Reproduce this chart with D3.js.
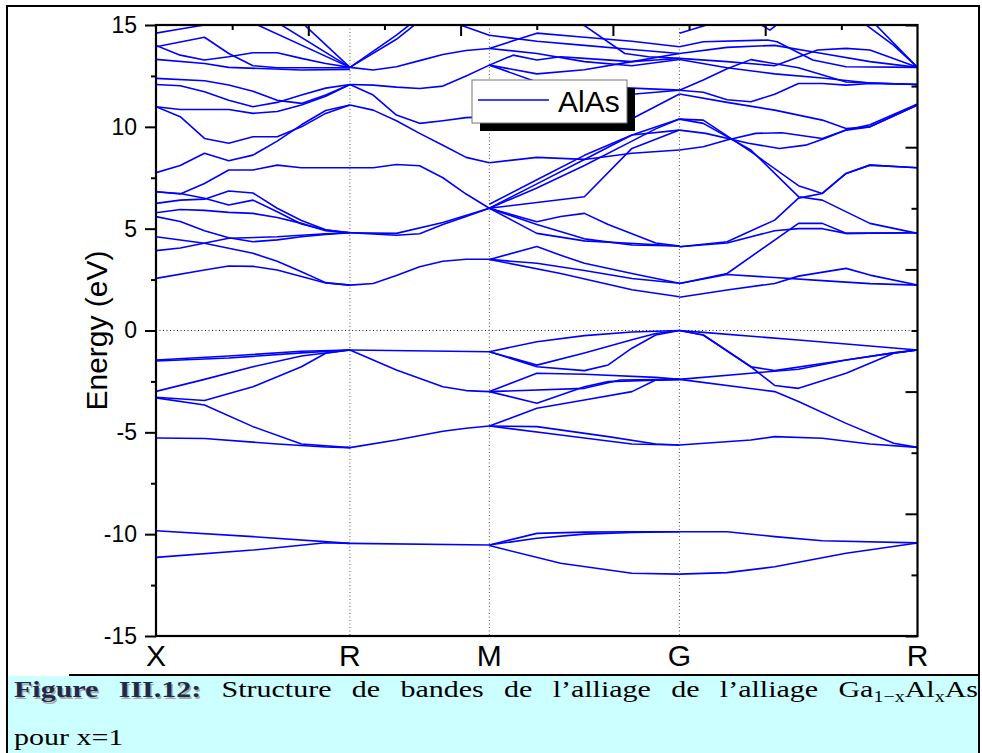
<!DOCTYPE html>
<html>
<head>
<meta charset="utf-8">
<script src="https://cdn.jsdelivr.net/npm/d3@7"></script>
<style>
  body { margin: 0; background: #fff; }
  svg { display: block; }
</style>
</head>
<body>
<svg id="chart" width="982" height="753"></svg>
<script>
"use strict";

// high symmetry points: k-point number and path length
var kLabels = ["X", "R", "M", "G", "R"];
var kIndex = [0, 8, 14, 22, 32];
var kPath = [0, 0.708, 1.217, 1.911, 2.780];

var yTicks = [-15, -10, -5, 0, 5, 10, 15];
var yMinor = [-12.5, -7.5, -2.5, 2.5, 7.5, 12.5];
var rightMajor = [-15, -9, -3, 3, 9, 15];
var rightMinor = [-12, -6, 0, 6, 12];
var legendLabel = "AlAs";

// bands, one list per segment, points are [k-point number, energy eV]
var bandsXR = [
  [[0,-11.14],[4,-10.78],[7,-10.42],[8,-10.45]],
  [[0,-9.83],[4,-10.12],[8,-10.45]],
  [[0,-5.28],[2,-5.3],[5,-5.57],[7,-5.72],[8,-5.75]],
  [[0,-3.31],[2,-3.66],[4,-4.72],[6,-5.57],[8,-5.75]],
  [[0,-3.28],[2,-3.44],[4,-2.76],[6,-1.78],[7,-1.12],[8,-0.96]],
  [[0,-2.99],[2,-2.4],[4,-1.78],[6,-1.25],[8,-0.96]],
  [[0,-1.5],[3,-1.35],[6,-1.1],[8,-0.96]],
  [[0,-1.45],[3,-1.25],[6,-1.02],[8,-0.96]],
  [[0,2.56],[2,2.97],[3,3.17],[4,3.15],[5,2.97],[6,2.65],[7,2.33],[8,2.23]],
  [[0,4.6],[2,4.28],[4,3.79],[5,3.4],[6,2.88],[7,2.35],[8,2.23]],
  [[0,3.92],[1,4.05],[3,4.53],[5,4.6],[7,4.75],[8,4.8]],
  [[0,5.59],[1,5.35],[2,4.9],[3,4.55],[4,4.36],[5,4.45],[6,4.6],[7,4.72],[8,4.8]],
  [[0,5.78],[1,5.94],[2,5.9],[3,5.8],[4,5.75],[5,5.55],[6,5.26],[7,4.9],[8,4.8]],
  [[0,6.81],[1,6.73],[2,6.49],[3,6.16],[4,6.4],[5,5.83],[6,5.23],[7,4.93],[8,4.8]],
  [[0,6.24],[1,6.4],[2,6.45],[3,6.85],[4,6.75],[5,6.0],[6,5.4],[7,4.95],[8,4.8]],
  [[0,6.81],[1,6.7],[2,7.22],[3,7.88],[4,7.88],[5,8.12],[6,7.99],[8,7.99]],
  [[0,7.75],[1,8.1],[2,8.7],[3,8.33],[4,8.61],[5,9.3],[6,10.1],[7,10.8],[8,11.07]],
  [[0,10.99],[1,10.5],[2,9.43],[3,9.19],[4,9.51],[5,9.51],[6,10.0],[7,10.66],[8,11.07]],
  [[0,10.99],[1,10.85],[2,10.85],[3,10.85],[4,10.66],[5,10.75],[6,11.07],[7,11.5],[8,12.08]],
  [[0,12.08],[1,12.02],[2,11.72],[3,11.31],[4,10.99],[5,11.2],[6,11.56],[7,11.9],[8,12.08]],
  [[0,12.38],[2,12.26],[3,12.05],[4,11.75],[5,11.3],[6,11.15],[7,11.56],[8,12.08]],
  [[0,13.31],[2,13.11],[3,12.92],[6,12.79],[8,12.82]],
  [[0,14.0],[1,13.52],[2,13.28],[3,13.44],[4,13.64],[5,13.64],[6,13.36],[7,13.11],[8,12.92]],
  [[0,13.93],[2,14.4],[3,13.6],[4,13.0],[5,12.9],[8,12.9]],
  [[0,14.6],[1,14.8],[2,15.0],[3,15.3]],
  [[3,15.65],[8,12.92]],
  [[4,15.86],[8,12.92]],
  [[5,16.25],[8,12.92]]
];

var bandsRM = [
  [[8,-10.45],[14,-10.53]],
  [[8,-5.75],[10,-5.38],[12,-4.95],[13,-4.8],[14,-4.69]],
  [[8,-0.96],[10,-1.94],[12,-2.76],[13,-2.95],[14,-3.0]],
  [[8,-0.96],[14,-1.04]],
  [[8,2.23],[9,2.31],[10,2.7],[11,3.13],[12,3.4],[13,3.5],[14,3.5]],
  [[8,4.8],[10,4.77],[12,5.3],[14,6.0]],
  [[8,4.8],[10,4.68],[11,4.75],[12,5.2],[13,5.6],[14,6.0]],
  [[8,7.99],[9,7.99],[10,8.15],[11,8.09],[12,7.5],[13,6.7],[14,6.0]],
  [[8,11.07],[9,10.82],[10,10.3],[11,9.68],[12,9.1],[13,8.5],[14,8.24]],
  [[8,12.08],[9,11.56],[10,10.58],[11,10.17],[12,10.3],[13,10.45],[14,10.5]],
  [[8,12.08],[9,12.05],[10,11.95],[11,11.88],[12,12.0],[13,12.5],[14,13.03]],
  [[8,12.92],[9,12.79],[10,12.95],[11,13.25],[12,13.55],[13,13.75],[14,13.85]],
  [[8,12.92],[10,14.5],[11,15.4]],
  [[8,12.92],[10,14.3],[11,15.2]],
  [[12,15.3],[14,14.5]]
];

var bandsMG = [
  [[14,-10.53],[16,-9.96],[18,-9.9],[20,-9.88],[22,-9.88]],
  [[14,-10.53],[16,-10.2],[18,-10.0],[20,-9.92],[22,-9.88]],
  [[14,-10.56],[17,-11.43],[20,-11.92],[22,-11.96]],
  [[14,-4.69],[17,-5.13],[20,-5.57],[22,-5.62]],
  [[14,-4.69],[16,-4.72],[19,-5.21],[21,-5.57],[22,-5.62]],
  [[14,-4.69],[16,-3.82],[18,-3.41],[20,-3.0],[21,-2.43],[22,-2.4]],
  [[14,-3.0],[16,-3.57],[18,-2.76],[19,-2.51],[22,-2.4]],
  [[14,-3.0],[18,-2.84],[19.5,-2.43],[22,-2.4]],
  [[14,-3.0],[16,-2.1],[18,-2.15],[21,-2.3],[22,-2.4]],
  [[14,-1.04],[16,-0.55],[18,-0.25],[20,-0.07],[22,0]],
  [[14,-1.04],[16,-1.78],[18,-1.97],[19,-1.69],[20,-0.87],[21,-0.22],[22,0]],
  [[14,-1.04],[16,-1.7],[18,-1.1],[20,-0.45],[21,-0.15],[22,0]],
  [[14,3.49],[16,4.12],[17,3.7],[18,3.3],[20,2.8],[22,2.32]],
  [[14,3.49],[16,3.3],[18,2.95],[20,2.55],[22,2.32]],
  [[14,3.49],[17,2.8],[20,2.0],[22,1.66]],
  [[14,6.0],[16,5.34],[17,5.6],[18,5.75],[19,5.2],[21,4.3],[22,4.15]],
  [[14,6.0],[16,4.77],[18,4.4],[22,4.15]],
  [[14,6.0],[16,5.2],[18,4.5],[20,4.2],[22,4.15]],
  [[14,6.0],[16,7.0],[18,8.1],[20,9.3],[21,9.9],[22,10.38]],
  [[14,6.0],[16,7.2],[18,8.4],[20,9.6],[22,10.38]],
  [[14,6.2],[16,7.4],[18,8.6],[20,9.6],[22,9.84]],
  [[14,6.0],[18,6.57],[20,8.94],[22,9.84]],
  [[14,8.24],[16,8.5],[18,8.4],[20,8.7],[22,8.86]],
  [[14,10.5],[16,10.1],[18,10.0],[20,10.4],[22,11.61]],
  [[14,10.5],[16,11.0],[18,11.3],[20,11.6],[22,11.8]],
  [[14,13.03],[16,12.2],[18,12.0],[20,11.9],[22,11.8]],
  [[14,13.03],[15,13.52],[16,13.28],[17,13.44],[18,13.36],[20,13.2],[21,13.28],[22,13.36]],
  [[14,13.85],[16,13.6],[18,13.2],[20,13.0],[22,13.31]],
  [[14,14.5],[16,14.2],[18,14.0],[20,13.8],[22,13.6]],
  [[14,13.85],[16,14.6],[18,14.4],[20,14.2],[22,13.93]],
  [[17,15.3],[18,14.97],[19.7,13.6],[20.7,13.44],[22,13.36]],
  [[14,13.03],[16,12.6],[18,12.8],[20,13.2],[22,13.6]]
];

var bandsGR = [
  [[22,-9.88],[24,-9.88],[26,-10.12],[28,-10.32],[32,-10.43]],
  [[22,-11.96],[24,-11.89],[26,-11.6],[29,-10.94],[32,-10.43]],
  [[22,-5.62],[25,-5.38],[26,-5.21],[28,-5.29],[30,-5.57],[32,-5.74]],
  [[22,-2.4],[26,-3.0],[27,-3.49],[29,-4.56],[31,-5.54],[32,-5.74]],
  [[22,-2.4],[25,-2.1],[27,-1.9],[29,-1.45],[31,-1.1],[32,-0.96]],
  [[22,0],[23,-0.09],[27,-0.47],[30,-0.76],[32,-0.96]],
  [[22,0],[23,-0.22],[25,-1.78],[26,-1.97],[29,-1.45],[31,-1.1],[32,-0.96]],
  [[22,0],[23,-0.22],[25,-1.78],[26,-2.7],[27,-2.84],[29,-2.1],[31,-1.12],[32,-0.96]],
  [[22,1.63],[24,1.99],[26,2.31],[27,2.67],[29,3.05],[30,2.72],[32,2.23]],
  [[22,2.31],[24,2.8],[27,5.26],[28,5.26],[29,4.77],[32,4.8]],
  [[22,2.31],[24,2.75],[26,2.6],[28,2.45],[30,2.3],[32,2.23]],
  [[22,4.11],[24,4.36],[26,5.42],[27,6.5],[28,6.73],[29,7.71],[30,8.12],[32,7.99]],
  [[22,4.11],[24,4.3],[26,4.9],[27,5.0],[28,5.0],[29,4.77],[32,4.8]],
  [[22,10.38],[23,10.17],[25,8.86],[27,6.57],[28,6.4],[30,5.26],[32,4.77]],
  [[22,10.38],[23,10.33],[25,8.78],[27,7.11],[28,6.73],[29,7.71],[30,8.12],[32,7.99]],
  [[22,8.86],[23,9.02],[24,9.35],[25.2,9.68],[26.3,9.71],[28,9.43],[29,9.84],[30,10.0],[32,11.07]],
  [[22,9.84],[23.1,9.68],[24.9,9.19],[26.2,8.94],[27.3,9.1],[28.1,9.43],[29,9.84],[30,10.1],[32,11.12]],
  [[22,11.61],[24,11.2],[26,10.82],[28,10.33],[29,9.92],[30,10.0],[32,11.07]],
  [[22,11.8],[23,11.7],[24,11.33],[25,11.23],[26,11.6],[27,12.13],[28,12.13],[29,12.05],[30,12.13],[32,12.08]],
  [[22,11.8],[23,12.3],[24,12.85],[25,13.3],[27,12.9],[29,12.2],[32,12.08]],
  [[22,13.31],[24,12.9],[26,12.6],[28,12.4],[30,12.15],[32,12.08]],
  [[22,13.36],[24,13.2],[26,13.0],[27.8,13.77],[29,13.85],[30,13.77],[32,12.92]],
  [[22,13.93],[23,14.18],[25.7,14.26],[26.1,14.18],[27.6,13.28],[29,12.95],[32,12.92]],
  [[22,13.6],[24,13.9],[26,14.0],[28,13.6],[30,13.2],[32,12.92]],
  [[25,15.3],[25.8,14.75],[26.4,15.3]],
  [[22,14.6],[24,15.3]],
  [[30,15.3],[32,12.92]],
  [[29.5,15.3],[31,14],[32,12.92]]
];

var captionBold = "Figure III.12:";
var captionText = " Structure de bandes de l\u2019alliage de l\u2019alliage Ga";
var captionLine2 = "pour x=1";

var svg = d3.select("#chart");
var margin = {top: 25, right: 64.5, bottom: 117, left: 156};
var width = 982 - margin.left - margin.right;
var height = 753 - margin.top - margin.bottom;

// outer frame and caption box
svg.append("rect")
  .attr("x", 8).attr("y", 676).attr("width", 971).attr("height", 77)
  .attr("fill", "#ccffff");
svg.append("line")
  .attr("x1", 69).attr("x2", 979).attr("y1", 675).attr("y2", 675)
  .attr("stroke", "#000").attr("stroke-width", 2);
svg.append("path")
  .attr("d", "M7,753 V6 H979 V753")
  .attr("fill", "none").attr("stroke", "#000").attr("stroke-width", 2);

var g = svg.append("g").attr("transform", "translate(" + margin.left + "," + margin.top + ")");

var kx = d3.scaleLinear().domain(kIndex).range(kPath);
var x = d3.scaleLinear().domain([0, kPath[kPath.length - 1]]).range([0, width]);
var y = d3.scaleLinear().domain([-15, 15]).range([height, 0]);

g.append("clipPath").attr("id", "clip")
  .append("rect").attr("width", width).attr("height", height);

// dotted guide lines
g.selectAll(".vline").data(kIndex.slice(1, 4)).enter().append("line")
  .attr("x1", function (d) { return x(kx(d)); })
  .attr("x2", function (d) { return x(kx(d)); })
  .attr("y1", 0).attr("y2", height)
  .attr("stroke", "#555").attr("stroke-width", 1)
  .attr("stroke-dasharray", "1,2.5");
g.append("line")
  .attr("x1", 0).attr("x2", width)
  .attr("y1", y(0)).attr("y2", y(0))
  .attr("stroke", "#222").attr("stroke-width", 1)
  .attr("stroke-dasharray", "1,2.5");

var line = d3.line()
  .x(function (d) { return x(kx(d[0])); })
  .y(function (d) { return y(d[1]); });

var allBands = bandsXR.concat(bandsRM, bandsMG, bandsGR);
g.append("g").attr("clip-path", "url(#clip)")
  .selectAll("path").data(allBands).enter().append("path")
  .attr("d", line)
  .attr("fill", "none")
  .attr("stroke", "#0000ff")
  .attr("stroke-width", 1.6)
  .attr("stroke-linejoin", "round");

// axes
var fontAxis = "Arial, 'Liberation Sans', sans-serif";

var left = g.append("g")
  .call(d3.axisLeft(y).tickValues(yTicks).tickSize(11).tickPadding(8)
    .tickFormat(function (d) { return String(d); }));
left.selectAll("text").attr("font-family", fontAxis).attr("font-size", 23).attr("fill", "#000");
g.append("g")
  .call(d3.axisLeft(y).tickValues(yMinor).tickSize(5).tickFormat(""));

var xMax = kPath[kPath.length - 1];
var topMajor = [2, 4, 6, 8].map(function (j) { return j * xMax / 10; });
var topMinor = [1, 3, 5, 7, 9].map(function (j) { return j * xMax / 10; });
g.append("g").call(d3.axisBottom(x).tickValues(topMajor).tickSize(11).tickFormat(""));
g.append("g").call(d3.axisBottom(x).tickValues(topMinor).tickSize(5).tickFormat(""));

g.append("g").attr("transform", "translate(" + width + ",0)")
  .call(d3.axisLeft(y).tickValues(rightMajor).tickSize(12).tickFormat(""));
g.append("g").attr("transform", "translate(" + width + ",0)")
  .call(d3.axisLeft(y).tickValues(rightMinor).tickSize(6).tickFormat(""));

g.selectAll(".domain").remove();
g.selectAll(".tick line").attr("stroke", "#000").attr("stroke-width", 2);

g.append("rect")
  .attr("width", width).attr("height", height)
  .attr("fill", "none").attr("stroke", "#000").attr("stroke-width", 2.2);

// symmetry point labels
g.selectAll(".klabel").data(kLabels).enter().append("text")
  .attr("x", function (d, i) { return x(kPath[i]); })
  .attr("y", height + 30)
  .attr("text-anchor", "middle")
  .attr("font-family", fontAxis).attr("font-size", 30)
  .text(function (d) { return d; });

g.append("text")
  .attr("transform", "translate(-49," + (height / 2) + ") rotate(-90)")
  .attr("text-anchor", "middle")
  .attr("font-family", fontAxis).attr("font-size", 30)
  .text("Energy (eV)");

// legend with shadow
var lg = g.append("g").attr("transform", "translate(316,55)");
lg.append("rect").attr("x", 8).attr("y", 8).attr("width", 155).attr("height", 43).attr("fill", "#000");
lg.append("rect").attr("width", 155).attr("height", 43)
  .attr("fill", "#fff").attr("stroke", "#777").attr("stroke-width", 1);
lg.append("line").attr("x1", 6).attr("x2", 77).attr("y1", 20).attr("y2", 20)
  .attr("stroke", "#0000ff").attr("stroke-width", 1.6);
lg.append("text").attr("x", 86).attr("y", 32)
  .attr("font-family", fontAxis).attr("font-size", 30)
  .text(legendLabel);

// caption, the glyphs in the picture are stretched sideways
var fontCap = "'Times New Roman', 'Liberation Serif', serif";
var stretch = 1.25;
function captionRow(dx, dy, color) {
  var t = svg.append("text")
    .attr("transform", "translate(" + (14 + dx) + "," + (697 + dy) + ") scale(" + stretch + ",1)")
    .attr("font-family", fontCap).attr("font-size", 24).attr("fill", color);
  t.append("tspan").attr("font-weight", "bold").attr("fill", dx ? "#aaa" : "#1f2a4a").text(captionBold);
  t.append("tspan").text(captionText);
  t.append("tspan").attr("font-size", 16).attr("dy", 5).text("1\u2212x");
  t.append("tspan").attr("font-size", 24).attr("dy", -5).text("Al");
  t.append("tspan").attr("font-size", 16).attr("dy", 5).text("x");
  t.append("tspan").attr("font-size", 24).attr("dy", -5).text("As");
  return t;
}
var capShadow = captionRow(1.5, 1.5, "none");
var cap = captionRow(0, 0, "#000");
var natural = cap.node().getComputedTextLength();
var spaces = (captionBold + captionText).split(" ").length - 1;
var ws = Math.max(0, ((978 - 14) / stretch - natural) / spaces);
cap.attr("word-spacing", ws);
capShadow.attr("word-spacing", ws);

svg.append("text")
  .attr("transform", "translate(14,745) scale(" + stretch + ",1)")
  .attr("font-family", fontCap).attr("font-size", 24)
  .text(captionLine2);
</script>
</body>
</html>
